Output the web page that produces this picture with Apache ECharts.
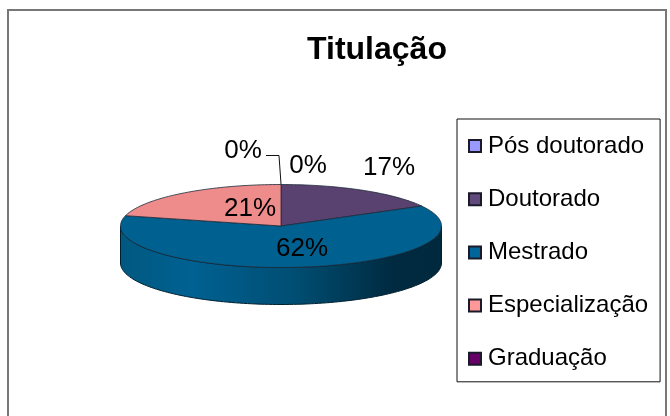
<!DOCTYPE html>
<html><head><meta charset="utf-8">
<style>html,body{margin:0;padding:0;background:#fff}#c{width:670px;height:416px}</style>
<script src="https://cdn.jsdelivr.net/npm/echarts@6/dist/echarts.min.js"></script>
</head><body><div id="c"></div>
<script>
const categories = ['Pós doutorado', 'Doutorado', 'Mestrado', 'Especialização', 'Graduação'];
const percentages = [0, 17, 62, 21, 0];
const legendColors = ['#9999ff', '#604a7b', '#006699', '#ff9999', '#660066'];
const faceColors = ['#9999ff', '#5a4270', '#006090', '#ee8c8c', '#660066'];

const PIE = {cx: 281, cy: 226, rx: 160.5, ry: 41.5, depth: 37};
const LABEL_AT = [[308, 166], [389, 168], [302, 249], [250, 209], [243, 151]];
const FONT = 'Liberation Sans, Arial, sans-serif';
const total = percentages.reduce((a, b) => a + b, 0);
const pt = (f, dy) => {
  const a = f * 2 * Math.PI;
  return [PIE.cx + PIE.rx * Math.sin(a), PIE.cy - PIE.ry * Math.cos(a) + (dy || 0)];
};
const arc = (from, to, dy) => {
  const n = Math.max(1, Math.ceil((to - from) * 240)), out = [];
  for (let i = 0; i <= n; i++) out.push(pt(from + (to - from) * i / n, dy));
  return out;
};
let cum = 0;
const spans = percentages.map(v => { const s = [cum / total, (cum + v) / total]; cum += v; return s; });

const sideFill = new echarts.graphic.LinearGradient(0, 0, 1, 0, [
  {offset: 0, color: '#00587f'}, {offset: 0.22, color: '#006192'},
  {offset: 0.55, color: '#004d72'}, {offset: 0.85, color: '#002a40'}, {offset: 1, color: '#00293e'}
]);

const series = categories.map((name, idx) => ({
  type: 'custom', name, coordinateSystem: 'none', silent: true, animation: false,
  itemStyle: {color: legendColors[idx]},
  data: [percentages[idx]],
  renderItem() {
    const [s, e] = spans[idx], children = [];
    const fs = Math.max(s, 0.25), fe = Math.min(e, 0.75);
    if (e > s && fe > fs) {
      children.push({type: 'polygon', shape: {points: arc(fs, fe).concat(arc(fs, fe, PIE.depth).reverse())},
        style: {fill: sideFill, stroke: '#00202f', lineWidth: 1}});
    }
    if (e > s) {
      children.push({type: 'polygon', shape: {points: [[PIE.cx, PIE.cy]].concat(arc(s, e))},
        style: {fill: faceColors[idx], stroke: '#1c2b3a', lineWidth: 0.8}});
    }
    return {type: 'group', children};
  }
}));
const labelSeries = {
  type: 'custom', coordinateSystem: 'none', silent: true, animation: false, z: 5,
  data: percentages, legendHoverLink: false,
  renderItem(p) {
    const [x, y] = LABEL_AT[p.dataIndex];
    return {type: 'text', style: {text: percentages[p.dataIndex] + '%', x, y, fill: '#000',
      font: '26px ' + FONT, align: 'center', verticalAlign: 'middle'}};
  }
};

const chart = echarts.init(document.getElementById('c'), null, {renderer: 'canvas'});
chart.setOption({
  backgroundColor: '#fff', animation: false,
  title: {text: 'Titulação', left: 377, top: 34, textAlign: 'center', padding: 0,
    textStyle: {fontFamily: FONT, fontSize: 32, fontWeight: 'bold', color: '#000'}},
  legend: {orient: 'vertical', left: 457, top: 119, data: categories, icon: 'rect', selectedMode: false,
    itemWidth: 12, itemHeight: 12, itemGap: 29.2, padding: [15, 12, 11, 11],
    borderColor: '#111', borderWidth: 1, backgroundColor: '#fff',
    itemStyle: {borderColor: '#1a1a2a', borderWidth: 2},
    textStyle: {fontFamily: FONT, fontSize: 24, color: '#000', padding: [0, 0, 0, 2]}},
  graphic: [
    {type: 'rect', z: -1, shape: {x: 8, y: 10, width: 658, height: 420}, style: {fill: '#fff', stroke: '#777', lineWidth: 2}},
    {type: 'polyline', z: 10, shape: {points: [[266, 155.5], [279, 155.5], [281, 184]]}, style: {fill: null, stroke: '#111', lineWidth: 1}}
  ],
  series: series.concat([labelSeries])
});
</script></body></html>
